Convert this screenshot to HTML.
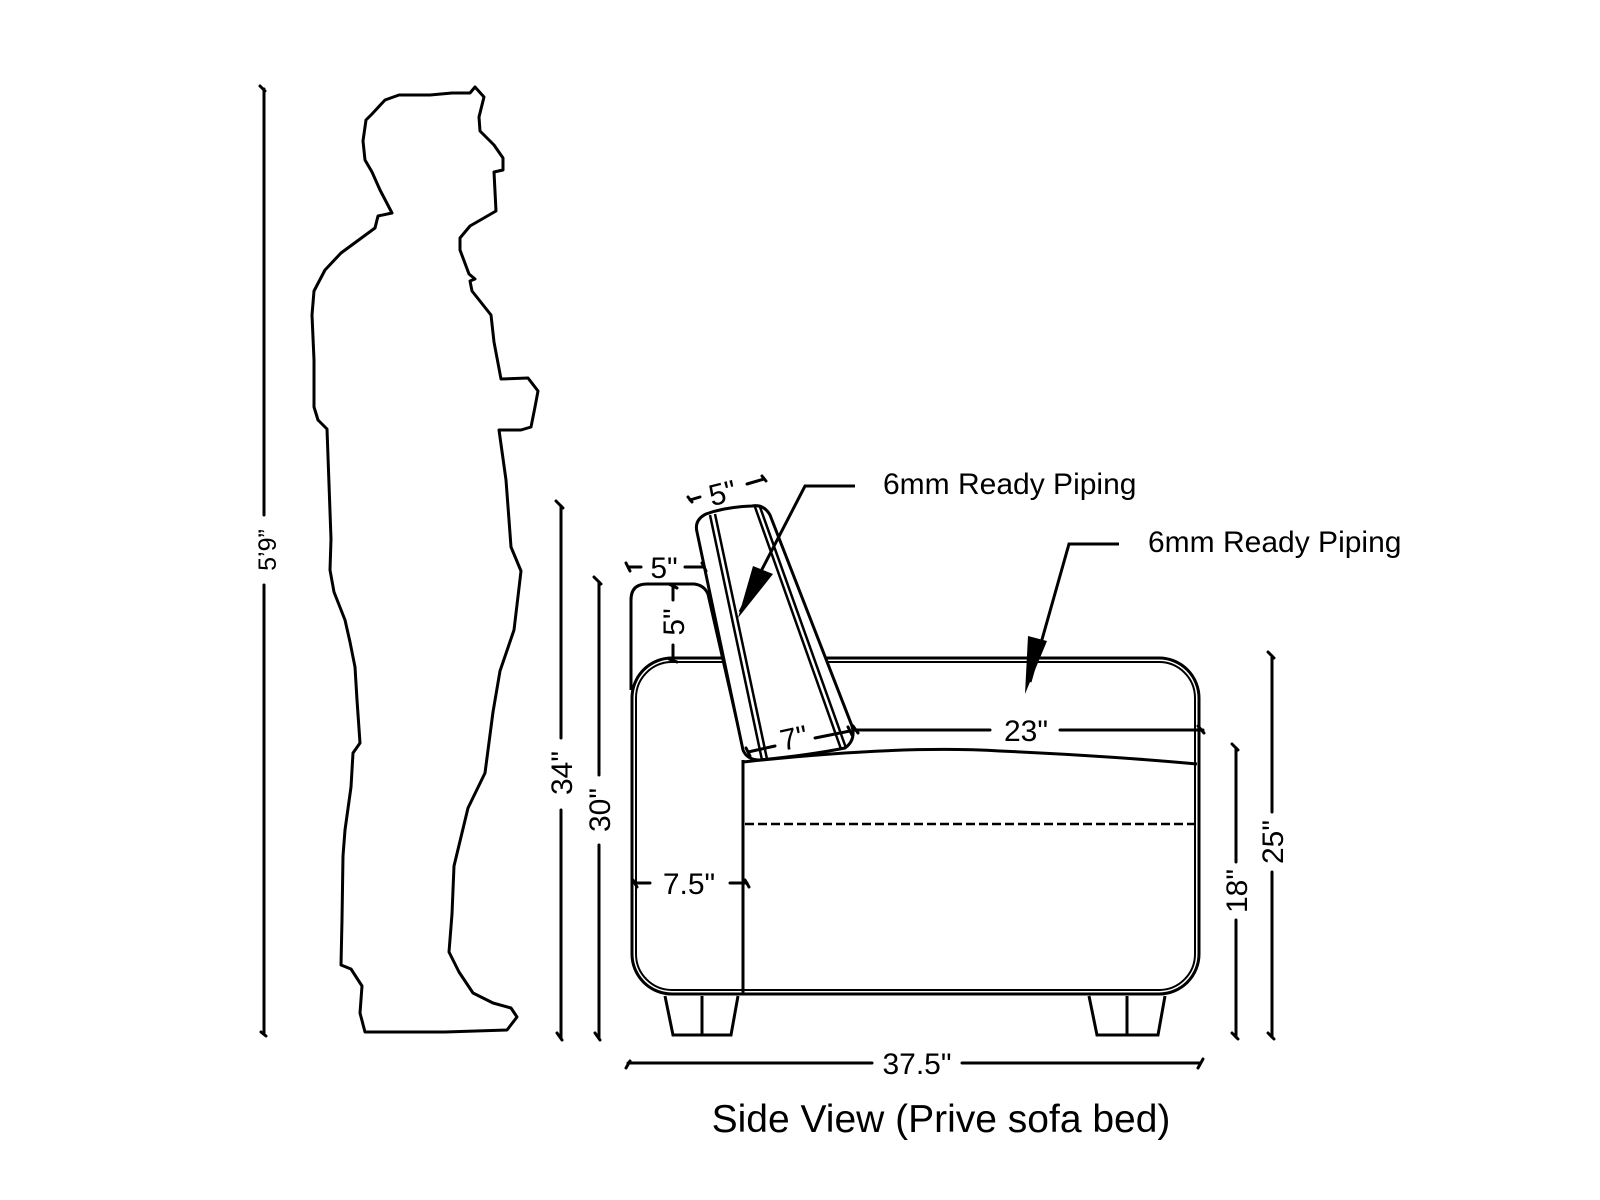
<!DOCTYPE html>
<html><head><meta charset="utf-8"><style>
html,body{margin:0;padding:0;background:#fff;}
svg{display:block;}
text{font-family:"Liberation Sans",Arial,sans-serif;fill:#000;}
</style></head><body>
<svg width="1600" height="1200" viewBox="0 0 1600 1200" xmlns="http://www.w3.org/2000/svg">
<rect width="1600" height="1200" fill="#fff"/>
<path fill="none" stroke="#000" stroke-width="3" stroke-linejoin="round" d="M475,87 L470,93 L452,93 L430,95 L399,95 L385,100 L372,114 L366,120 L363,141 L365,160 L372,172 L380,190 L392,213 L378,216 L375,228 L341,253 L325,270 L314,291 L312,315 L314,360 L314,407 L318,420 L327,429 L331,539 L330,570 L334,592 L345,620 L350,642 L355,667 L357,700 L360,743 L353,753 L351,787 L345,830 L343,856 L342,920 L341,965 L351,969 L362,986 L360,1013 L365,1032 L445,1032 L507,1030 L517,1017 L511,1008 L493,1003 L473,993 L459,972 L449,952 L452,914 L454,866 L468,808 L485,773 L493,712 L500,671 L514,630 L519,588 L521,571 L511,547 L509,520 L506,480 L499,430 L521,430 L531,427 L535,407 L538,391 L528,378 L501,379 L494,342 L491,315 L472,291 L470,281 L475,279 L469,274 L460,250 L460,238 L470,226 L496,211 L494,172 L503,170 L503,158 L494,145 L480,131 L479,117 L484,97 L475,87 Z"/>

<g stroke="#000" stroke-width="3" fill="none" stroke-linecap="round">
<line x1="264" y1="89" x2="264" y2="515"/>
<line x1="264" y1="585" x2="264" y2="1034"/>
<path d="M260,86 L265,91 M261,1032 L266,1036"/>
<line x1="561" y1="506" x2="561" y2="738"/>
<line x1="561" y1="810" x2="561" y2="1038"/>
<path d="M556,501 L563,508 M557,1033 L562,1040"/>
<line x1="599" y1="582" x2="599" y2="775"/>
<line x1="599" y1="845" x2="599" y2="1038"/>
<path d="M594,577 L601,584 M595,1033 L600,1040"/>
<line x1="1236" y1="748" x2="1236" y2="862"/>
<line x1="1236" y1="920" x2="1236" y2="1037"/>
<path d="M1232,744 L1238,750 M1232,1033 L1238,1039"/>
<line x1="1272" y1="656" x2="1272" y2="812"/>
<line x1="1272" y1="872" x2="1272" y2="1037"/>
<path d="M1268,652 L1274,658 M1268,1033 L1274,1039"/>
<line x1="628" y1="1063" x2="872" y2="1063"/>
<line x1="962" y1="1063" x2="1200" y2="1063"/>
<path d="M626,1068 L630,1061 M1198,1068 L1203,1059"/>
</g>

<g fill="none" stroke="#000">
<rect x="632" y="658" width="567" height="336" rx="40" stroke-width="3"/>
<rect x="636" y="662" width="559" height="328" rx="36" stroke-width="2"/>
<line x1="743" y1="760" x2="743" y2="994" stroke-width="3"/>
<line x1="745" y1="824" x2="1195" y2="824" stroke-width="2.5" stroke-dasharray="9,4"/>
<path d="M743,762 Q900,745 1000,751 Q1110,756 1197,764" stroke-width="3"/>
<path d="M665,996 L673,1035 L731,1035 L738,996 M702,996 L702,1035" stroke-width="3"/>
<path d="M1089,996 L1097,1035 L1158,1035 L1165,996 M1127,996 L1127,1035" stroke-width="3"/>
<path d="M631,690 L631,600 Q631,584 647,584 L694,584 Q704,585 708,594 L744,752" stroke-width="3"/>
<path fill="#fff" d="M697,532 L743,750 Q747,760 760,760 Q810,755 845,748 Q856,740 852,726 L770,515 Q764,504 752,506 Q725,507 706,514 Q694,520 697,532 Z" stroke-width="3"/>
<line x1="710" y1="515" x2="762" y2="760" stroke-width="2.5"/>
<line x1="715" y1="514" x2="767" y2="759" stroke-width="2.5"/>
<line x1="755" y1="507" x2="841" y2="749" stroke-width="2.5"/>
<line x1="760" y1="507" x2="846" y2="748" stroke-width="2.5"/>
</g>

<g stroke="#000" stroke-width="3" fill="none" stroke-linecap="round">
<path d="M635,883 L650,883 M730,883 L747,883 M633,880 L637,887 M745,880 L749,887"/>
<path d="M855,730 L990,730 M1060,730 L1203,730 M853,726 L858,733 M1198,726 L1204,733"/>
<path d="M748,752 L775,746 M815,738 L850,731 M746,748 L750,756 M848,727 L852,735"/>
<path d="M690,500 L700,497 M747,484 L764,479 M688,497 L692,502 M762,476 L766,481"/>
<path d="M628,567 L641,567 M685,567 L704,567 M626,563 L630,571 M702,563 L706,571"/>
<path d="M673,586 L673,600 M673,645 L673,660 M669,584 L677,588 M669,659 L677,662"/>
</g>

<g stroke="#000" stroke-width="3" fill="none">
<path d="M855,486 L805,486 L740,612"/>
<path d="M1119,544 L1069,544 L1030,682"/>
</g>
<polygon points="753,566 773,574 738,618" fill="#000"/>
<polygon points="1028,636 1047,641 1025,694" fill="#000"/>

<g font-size="30">
<text transform="translate(276,550) rotate(-90)" text-anchor="middle" font-size="25">5’9”</text>
<text transform="translate(572,773) rotate(-90)" text-anchor="middle">34"</text>
<text transform="translate(610,810) rotate(-90)" text-anchor="middle">30"</text>
<text transform="translate(1247,891) rotate(-90)" text-anchor="middle">18"</text>
<text transform="translate(1283,842) rotate(-90)" text-anchor="middle">25"</text>
<text x="917" y="1074" text-anchor="middle">37.5"</text>
<text x="689" y="894" text-anchor="middle">7.5"</text>
<text x="1026" y="741" text-anchor="middle">23"</text>
<text transform="translate(796,748) rotate(-12)" text-anchor="middle">7"</text>
<text transform="translate(725,503) rotate(-14)" text-anchor="middle">5"</text>
<text x="664" y="578" text-anchor="middle">5"</text>
<text transform="translate(684,622) rotate(-90)" text-anchor="middle">5"</text>
<text x="883" y="494" font-size="30">6mm Ready Piping</text>
<text x="1148" y="552" font-size="30">6mm Ready Piping</text>
<text x="941" y="1132" text-anchor="middle" font-size="39">Side View (Prive sofa bed)</text>
</g>
</svg>
</body></html>
